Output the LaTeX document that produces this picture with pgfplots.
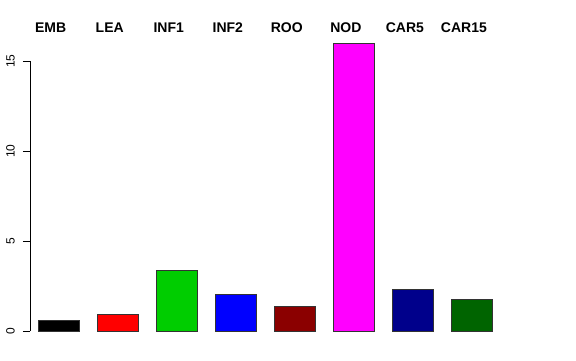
\documentclass[border=0pt]{standalone}
\usepackage{fontspec}
\setmainfont{Liberation Sans}
\usepackage{pgfplots}
\pgfplotsset{compat=1.18}
\definecolor{cgreen}{RGB}{0,205,0}
\definecolor{cdarkred}{RGB}{139,0,0}
\definecolor{cnavy}{RGB}{0,0,139}
\definecolor{cdkgreen}{RGB}{0,100,0}
\definecolor{cmagenta}{RGB}{255,0,255}
\tikzset{lab/.style={font=\fontsize{14}{16}\selectfont\bfseries, anchor=center}}
\begin{document}
\begin{tikzpicture}[x=1pt,y=1pt]
\path[use as bounding box] (0,0) rectangle (576,360);
\begin{axis}[
  at={(30pt,29pt)}, anchor=south west,
  scale only axis, width=516pt, height=299.5pt,
  xmin=-0.49, xmax=8.25, ymin=0, ymax=16.64,
  axis y line*=left, hide x axis,
  y axis line style={draw=none},
  ytick={0,5,10,15},
  tick style={black, line width=0.6pt},
  major tick length=7pt, tick align=outside,
  yticklabel style={rotate=90, anchor=south, font=\fontsize{12}{14}\selectfont, inner sep=0pt},
  yticklabel shift=8pt,
  /pgf/number format/assume math mode=true,
  ybar, bar width=41pt, bar shift=0pt,
  clip=false,
  every axis plot/.append style={draw=black!80, line width=0.6pt},
]
\addplot[fill=black] coordinates {(0,0.57)};
\addplot[fill=red] coordinates {(1,0.93)};
\addplot[fill=cgreen] coordinates {(2,3.39)};
\addplot[fill=blue] coordinates {(3,2.04)};
\addplot[fill=cdarkred] coordinates {(4,1.35)};
\addplot[fill=cmagenta] coordinates {(5,16.0)};
\addplot[fill=cnavy] coordinates {(6,2.33)};
\addplot[fill=cdkgreen] coordinates {(7,1.76)};
\draw[black, line width=0.6pt] (axis cs:-0.49,0) -- (axis cs:-0.49,15);
\node[lab] at (axis cs:-0.14,16.83) {EMB};
\node[lab] at (axis cs:0.86,16.83) {LEA};
\node[lab] at (axis cs:1.86,16.83) {INF1};
\node[lab] at (axis cs:2.86,16.83) {INF2};
\node[lab] at (axis cs:3.86,16.83) {ROO};
\node[lab] at (axis cs:4.86,16.83) {NOD};
\node[lab] at (axis cs:5.86,16.83) {CAR5};
\node[lab] at (axis cs:6.86,16.83) {CAR15};
\end{axis}
\end{tikzpicture}
\end{document}
